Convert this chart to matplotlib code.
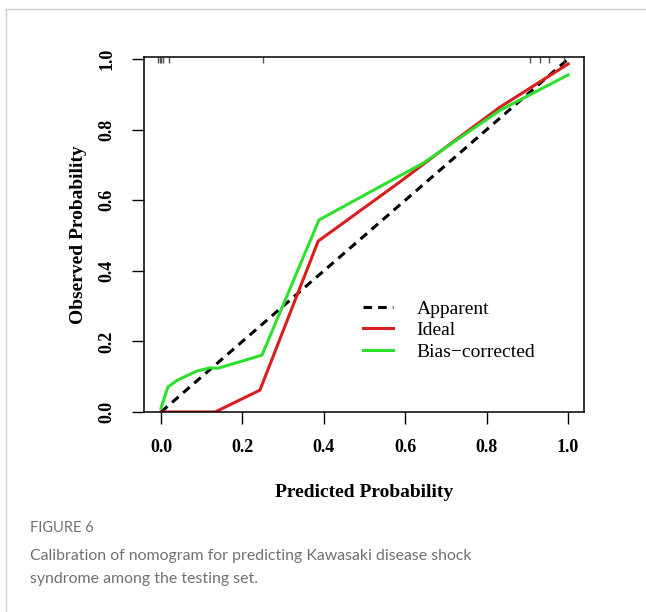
import matplotlib
matplotlib.use('Agg')
import matplotlib.pyplot as plt
from matplotlib.lines import Line2D

# Calibration curves
apparent_x = [0.0, 1.0]
apparent_y = [0.0, 1.0]

ideal_x = [0.0, 0.133, 0.243, 0.386, 0.587, 0.71, 0.833, 1.0]
ideal_y = [0.0, 0.0, 0.062, 0.484, 0.652, 0.759, 0.864, 0.986]

bias_x = [0.0, 0.017, 0.04, 0.088, 0.12, 0.14, 0.248, 0.388, 0.545, 0.644, 0.833, 1.0]
bias_y = [0.011, 0.071, 0.09, 0.116, 0.125, 0.124, 0.161, 0.544, 0.643, 0.705, 0.855, 0.955]

# distribution of predictions (rug at top)
rug_x = [-0.008, -0.003, 0.0, 0.004, 0.02, 0.25, 0.907, 0.93, 0.953, 0.99]

ticks = [0.0, 0.2, 0.4, 0.6, 0.8, 1.0]
tick_labels = ['0.0', '0.2', '0.4', '0.6', '0.8', '1.0']

W, H = 646, 612
fig = plt.figure(figsize=(W / 100, H / 100), dpi=100)

serif = 'Liberation Serif'

# axes box in pixels: left 144, right 584, top 57, bottom 412
ax = fig.add_axes([144 / W, 1 - 412 / H, 440 / W, 355 / H])

ax.plot(apparent_x, apparent_y, color='black', lw=2.2, dashes=(2.8, 2.0), label='Apparent')
ax.plot(ideal_x, ideal_y, color='#d71f1f', lw=2.2, label='Ideal')
ax.plot(bias_x, bias_y, color='#2ee02e', lw=2.2, label='Bias\u2212corrected')
ax.vlines(rug_x, 0.988, 1.0057, color='#555555', lw=1)

ax.set_xlim(-0.0418, 1.039)
ax.set_ylim(0, 1.0057)
ax.set_xticks(ticks)
ax.set_xticklabels(tick_labels)
ax.set_yticks(ticks)
ax.set_yticklabels(tick_labels, rotation=90, va='center')
ax.tick_params(direction='out', length=8.6, width=1.0)
ax.tick_params(axis='x', pad=11)
ax.tick_params(axis='y', pad=12)
for lab in ax.get_xticklabels() + ax.get_yticklabels():
    lab.set_fontfamily(serif)
    lab.set_fontweight('bold')
    lab.set_fontsize(13)
for s in ax.spines.values():
    s.set_linewidth(1.1)

ax.set_xlabel('Predicted Probability', fontfamily=serif, fontweight='bold', fontsize=14, labelpad=20)
ax.set_ylabel('Observed Probability', fontfamily=serif, fontweight='bold', fontsize=14, labelpad=8)

ax.legend(loc='upper left', bbox_to_anchor=(363 / W, 1 - 300 / H), bbox_transform=fig.transFigure,
          frameon=False, borderpad=0, borderaxespad=0, handlelength=1.55, handletextpad=1.2,
          labelspacing=0.2, prop={'family': serif, 'size': 14})

# caption
fig.text(30 / W, 1 - 528 / H, 'FIGURE 6', fontfamily='Lato', fontsize=10.5, color='#707070', va='center')
fig.text(30 / W, 1 - 556 / H, 'Calibration of nomogram for predicting Kawasaki disease shock',
         fontfamily='Lato', fontsize=11.4, color='#707070', va='center')
fig.text(30 / W, 1 - 579 / H, 'syndrome among the testing set.',
         fontfamily='Lato', fontsize=11.4, color='#707070', va='center')

# frame around the figure panel
fig.add_artist(Line2D([6 / W, 6 / W], [0, 1 - 9 / H], transform=fig.transFigure, color='#d0d0d0', lw=1))
fig.add_artist(Line2D([6 / W, 1], [1 - 9 / H, 1 - 9 / H], transform=fig.transFigure, color='#d0d0d0', lw=1))

fig.savefig('out.png', dpi=100)
